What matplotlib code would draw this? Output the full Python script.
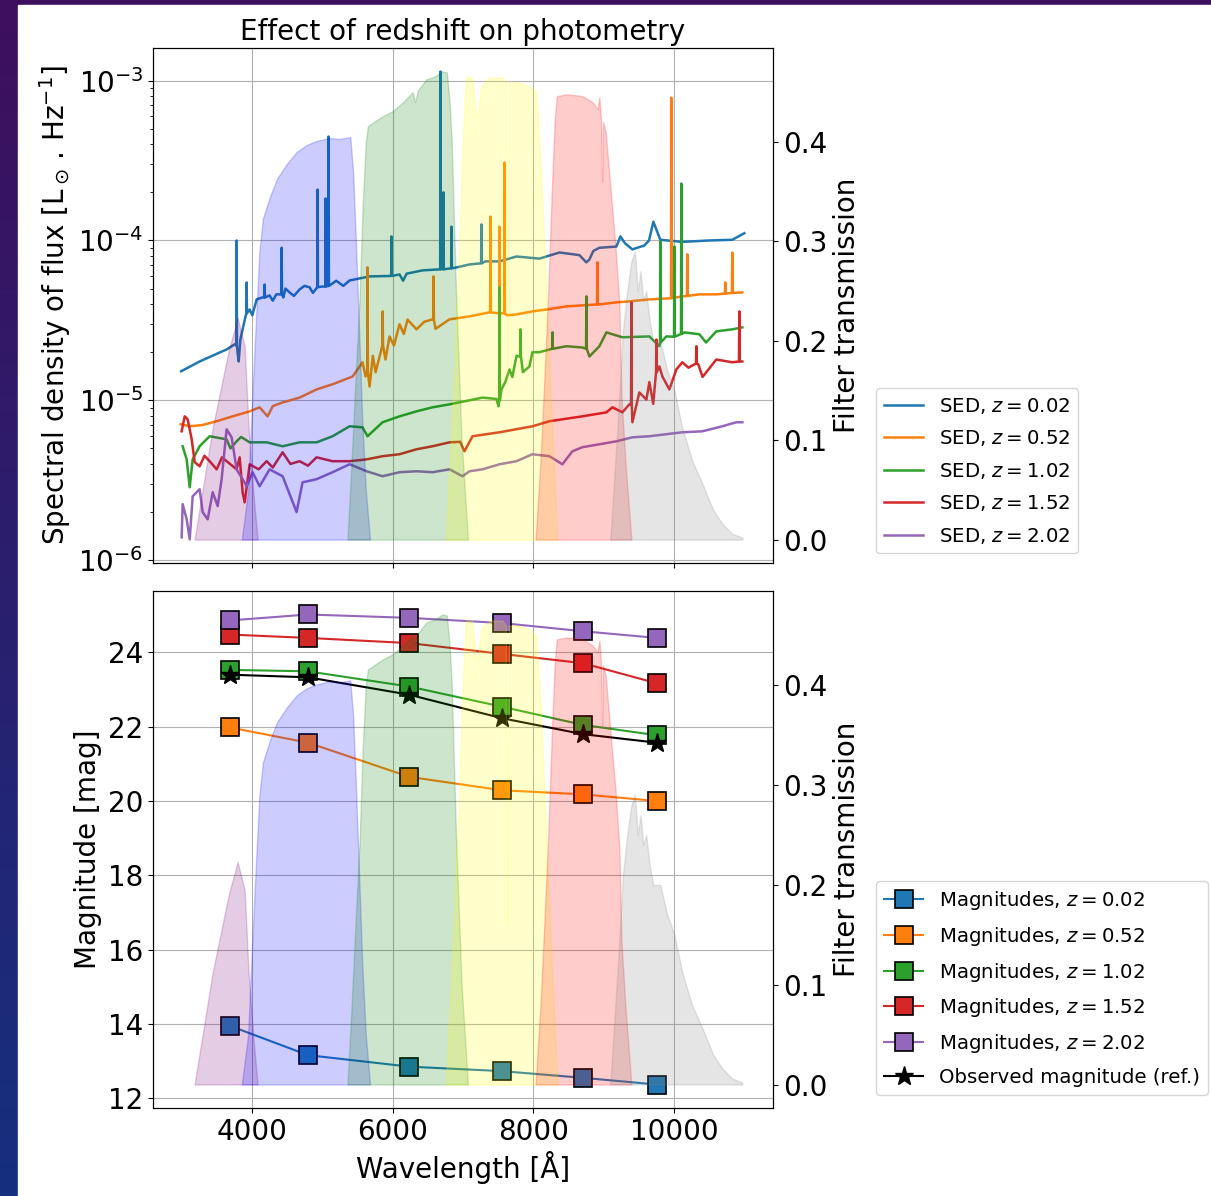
import numpy as np
import matplotlib
matplotlib.use("Agg")
import matplotlib.pyplot as plt
from matplotlib.patches import Rectangle
from matplotlib.colors import to_rgb

# SED continua, wavelength in Angstrom, flux in Lsun/Hz
cont_z002_wl = [3000, 3262, 3500, 3645, 3759, 3800, 3816, 3840, 3872, 3910, 3972, 4010, 4071, 4150,
                4255, 4300, 4350, 4450, 4480, 4539, 4600, 4681, 4750, 4823, 4870, 4993, 5149, 5200,
                5300, 5390, 5674, 6099, 6150, 6200, 6426, 6700, 6894, 7092, 7319, 7518, 7759, 8085,
                8369, 8652, 8750, 8794, 8850, 8936, 9177, 9234, 9300, 9404, 9574, 9640, 9702, 9801,
                10113, 10496, 10822, 10993]
cont_z002_fl = [1.52e-5, 1.75e-5, 1.95e-5, 2.08e-5, 2.24e-5, 2.0e-5, 1.75e-5, 2.4e-5, 2.78e-5, 3.3e-5,
                3.7e-5, 3.4e-5, 4.28e-5, 4.4e-5, 4.53e-5, 4.2e-5, 4.6e-5, 4.4e-5, 5.0e-5, 4.73e-5,
                4.5e-5, 4.94e-5, 5.2e-5, 5.09e-5, 4.7e-5, 5.15e-5, 5.39e-5, 5.6e-5, 5.2e-5, 5.62e-5,
                5.96e-5, 6.13e-5, 5.6e-5, 6.2e-5, 6.5e-5, 6.7e-5, 6.76e-5, 7.08e-5, 7.4e-5, 7.4e-5,
                7.94e-5, 7.7e-5, 8.41e-5, 8.1e-5, 7.3e-5, 7.6e-5, 8.6e-5, 9.0e-5, 9.16e-5, 1.06e-4,
                9.6e-5, 8.8e-5, 9.3e-5, 1.0e-4, 1.31e-4, 1.01e-4, 9.8e-5, 1.0e-4, 1.01e-4, 1.11e-4]
# emission lines: wavelength, continuum level, peak
lines_z002_wl = [3787, 3929, 4184, 4426, 4936, 5050, 5092, 5986, 6681, 6723, 6837, 7262]
lines_z002_base = [2.2e-5, 3.5e-5, 4.4e-5, 4.6e-5, 5.1e-5, 5.15e-5, 5.2e-5, 6.0e-5, 6.6e-5, 6.6e-5,
                   6.7e-5, 7.2e-5]
lines_z002_peak = [1.0e-4, 5.46e-5, 5.3e-5, 9.0e-5, 2.08e-4, 1.83e-4, 4.47e-4, 1.06e-4, 1.14e-3,
                   2.0e-4, 1.22e-4, 1.26e-4]

cont_z052_wl = [2993, 3121, 3300, 3504, 3730, 3972, 4113, 4227, 4300, 4440, 4681, 4922, 5149, 5433,
                5574, 5617, 5674, 5720, 5760, 5858, 5900, 5957, 6020, 6099, 6160, 6213, 6340, 6450,
                6567, 6610, 6809, 7092, 7376, 7546, 7631, 7759, 7986, 8184, 8468, 8936, 9177, 9362,
                9645, 10113, 10354, 10595, 10965]
cont_z052_fl = [7.08e-6, 6.88e-6, 7.0e-6, 7.4e-6, 7.94e-6, 8.53e-6, 9.04e-6, 7.94e-6, 9.2e-6, 9.7e-6,
                1.04e-5, 1.17e-5, 1.26e-5, 1.41e-5, 1.73e-5, 1.41e-5, 1.22e-5, 1.9e-5, 1.5e-5, 2.18e-5,
                1.8e-5, 2.51e-5, 2.2e-5, 2.99e-5, 2.6e-5, 3.2e-5, 2.78e-5, 3.1e-5, 3.21e-5, 2.8e-5,
                3.21e-5, 3.35e-5, 3.55e-5, 3.5e-5, 3.4e-5, 3.45e-5, 3.6e-5, 3.7e-5, 3.87e-5, 3.98e-5,
                4.1e-5, 4.16e-5, 4.28e-5, 4.47e-5, 4.6e-5, 4.6e-5, 4.73e-5]
lines_z052_wl = [5645, 5860, 6582, 7390, 7518, 7589, 8908, 9957, 10184, 10723, 10822]
lines_z052_base = [1.5e-5, 2.2e-5, 3.2e-5, 3.55e-5, 3.5e-5, 3.5e-5, 3.98e-5, 4.35e-5, 4.5e-5, 4.65e-5,
                   4.7e-5]
lines_z052_peak = [6.78e-5, 3.6e-5, 5.96e-5, 1.41e-4, 1.22e-4, 3.07e-4, 7.29e-5, 7.83e-4, 8.2e-5,
                   5.46e-5, 8.4e-5]

cont_z102_wl = [3021, 3078, 3121, 3163, 3262, 3404, 3645, 3700, 3787, 3850, 3972, 4213, 4440, 4681,
                4922, 5149, 5390, 5574, 5645, 5858, 6099, 6340, 6567, 6809, 7092, 7277, 7475, 7504,
                7546, 7600, 7660, 7700, 7760, 7801, 7850, 7943, 7986, 8085, 8227, 8468, 8695, 8794,
                8936, 9035, 9262, 9645, 9787, 9886, 10142, 10354, 10450, 10595, 10822, 10965]
cont_z102_fl = [5.16e-6, 4.27e-6, 2.86e-6, 4.27e-6, 5.16e-6, 5.96e-6, 5.7e-6, 5.0e-6, 5.54e-6, 5.9e-6,
                5.46e-6, 5.46e-6, 5.16e-6, 5.46e-6, 5.46e-6, 5.96e-6, 6.88e-6, 6.78e-6, 5.96e-6, 7.29e-6,
                7.94e-6, 8.53e-6, 9.04e-6, 9.44e-6, 1.0e-5, 1.04e-5, 1.02e-5, 9.17e-6, 1.17e-5, 1.3e-5,
                1.56e-5, 1.4e-5, 1.9e-5, 1.88e-5, 1.5e-5, 1.63e-5, 2.0e-5, 2.0e-5, 2.08e-5, 2.18e-5,
                2.14e-5, 1.88e-5, 2.18e-5, 2.66e-5, 2.48e-5, 2.51e-5, 2.18e-5, 2.51e-5, 2.66e-5, 2.59e-5,
                2.3e-5, 2.7e-5, 2.78e-5, 2.86e-5]
lines_z102_wl = [7518, 7816, 8270, 8752, 9801, 10000, 10099]
lines_z102_base = [1.0e-5, 1.9e-5, 2.1e-5, 2.1e-5, 2.3e-5, 2.5e-5, 2.6e-5]
lines_z102_peak = [5.09e-5, 2.78e-5, 2.66e-5, 4.47e-5, 9.86e-5, 9.17e-5, 2.27e-4]

cont_z152_wl = [3007, 3050, 3092, 3149, 3192, 3262, 3330, 3404, 3504, 3580, 3645, 3787, 3830, 3872,
                3901, 3972, 4100, 4213, 4300, 4440, 4550, 4681, 4800, 4922, 5149, 5390, 5631, 5858,
                6099, 6340, 6567, 6809, 6960, 7021, 7135, 7518, 7986, 8227, 8695, 9035, 9121, 9262,
                9362, 9404, 9503, 9603, 9645, 9700, 9787, 9830, 9929, 10028, 10113, 10200, 10340,
                10400, 10595, 10822, 10965]
cont_z152_fl = [6.4e-6, 7.94e-6, 7.6e-6, 5.7e-6, 4.1e-6, 3.87e-6, 4.5e-6, 4.16e-6, 3.7e-6, 4.4e-6,
                4.16e-6, 3.7e-6, 4.4e-6, 2.66e-6, 2.3e-6, 3.98e-6, 3.7e-6, 4.16e-6, 3.8e-6, 4.73e-6,
                4.0e-6, 4.16e-6, 3.9e-6, 4.4e-6, 4.16e-6, 4.16e-6, 4.27e-6, 4.47e-6, 4.6e-6, 4.94e-6,
                5.16e-6, 5.46e-6, 5.5e-6, 4.8e-6, 5.96e-6, 6.31e-6, 6.88e-6, 7.4e-6, 7.94e-6, 8.41e-6,
                9.04e-6, 8.41e-6, 9.44e-6, 7.29e-6, 1.12e-5, 1.01e-5, 1.3e-5, 9.5e-6, 1.63e-5, 1.41e-5,
                1.17e-5, 1.56e-5, 1.73e-5, 1.6e-5, 1.68e-5, 1.4e-5, 1.8e-5, 1.73e-5, 1.75e-5]
lines_z152_wl = [9390, 9745, 10312, 10922]
lines_z152_base = [9.44e-6, 1.5e-5, 1.7e-5, 1.75e-5]
lines_z152_peak = [4.1e-5, 2.4e-5, 2.18e-5, 3.6e-5]

cont_z202_wl = [3007, 3021, 3078, 3121, 3163, 3262, 3305, 3376, 3447, 3518, 3574, 3645, 3716, 3787,
                3872, 3929, 4014, 4113, 4255, 4440, 4638, 4723, 4922, 5149, 5390, 5631, 5858, 6099,
                6340, 6567, 6809, 6993, 7092, 7277, 7518, 7759, 7986, 8227, 8411, 8553, 8695, 9177,
                9404, 9645, 10113, 10397, 10681, 10879, 10965]
cont_z202_fl = [1.39e-6, 2.24e-6, 1.8e-6, 1.35e-6, 2.51e-6, 2.78e-6, 2.0e-6, 1.8e-6, 2.66e-6, 2.18e-6,
                3.21e-6, 6.59e-6, 5.87e-6, 3.7e-6, 3.21e-6, 2.9e-6, 3.55e-6, 2.9e-6, 3.7e-6, 3.35e-6,
                2.0e-6, 3.07e-6, 3.21e-6, 3.55e-6, 3.98e-6, 3.6e-6, 3.35e-6, 3.55e-6, 3.6e-6, 3.55e-6,
                3.7e-6, 3.35e-6, 3.6e-6, 3.7e-6, 3.98e-6, 4.16e-6, 4.6e-6, 4.47e-6, 3.98e-6, 4.8e-6,
                5.09e-6, 5.54e-6, 5.87e-6, 5.96e-6, 6.31e-6, 6.4e-6, 6.88e-6, 7.29e-6, 7.29e-6]
lines_z202_wl = []
lines_z202_base = []
lines_z202_peak = []

redshifts = ["0.02", "0.52", "1.02", "1.52", "2.02"]
seds = [
    (cont_z002_wl, cont_z002_fl, lines_z002_wl, lines_z002_base, lines_z002_peak),
    (cont_z052_wl, cont_z052_fl, lines_z052_wl, lines_z052_base, lines_z052_peak),
    (cont_z102_wl, cont_z102_fl, lines_z102_wl, lines_z102_base, lines_z102_peak),
    (cont_z152_wl, cont_z152_fl, lines_z152_wl, lines_z152_base, lines_z152_peak),
    (cont_z202_wl, cont_z202_fl, lines_z202_wl, lines_z202_base, lines_z202_peak),
]

# filter transmission curves
filt_u_wl = [3190, 3446, 3674, 3801, 3900, 3957, 4028, 4085]
filt_u_tr = [0.0, 0.112, 0.19, 0.223, 0.195, 0.112, 0.044, 0.0]
filt_g_wl = [3860, 3950, 4000, 4060, 4110, 4160, 4260, 4360, 4500, 4640, 4780, 4920, 5100, 5250,
             5400, 5440, 5480, 5520, 5570, 5620, 5680]
filt_g_tr = [0.0, 0.05, 0.13, 0.22, 0.29, 0.323, 0.345, 0.363, 0.378, 0.39, 0.397, 0.401, 0.404,
             0.403, 0.405, 0.37, 0.3, 0.22, 0.12, 0.05, 0.0]
filt_r_wl = [5360, 5420, 5480, 5530, 5575, 5620, 5650, 5860, 6000, 6150, 6284, 6320, 6360, 6480,
             6600, 6709, 6770, 6810, 6840, 6900, 6980, 7070]
filt_r_tr = [0.0, 0.08, 0.17, 0.24, 0.335, 0.4, 0.416, 0.426, 0.431, 0.44, 0.45, 0.44, 0.452, 0.463,
             0.466, 0.471, 0.47, 0.44, 0.40, 0.25, 0.1, 0.0]
filt_i_wl = [6760, 6830, 6890, 6950, 6995, 7040, 7130, 7180, 7200, 7260, 7380, 7560, 7610, 7630,
             7650, 7690, 7800, 7943, 8040, 8085, 8140, 8185, 8260, 8340]
filt_i_tr = [0.0, 0.1, 0.2, 0.3, 0.40, 0.465, 0.465, 0.43, 0.425, 0.456, 0.465, 0.465, 0.46, 0.16,
             0.46, 0.46, 0.46, 0.456, 0.45, 0.40, 0.32, 0.246, 0.12, 0.0]
filt_z_wl = [8030, 8100, 8160, 8210, 8260, 8300, 8330, 8470, 8600, 8700, 8840, 8910, 8936, 8960,
             8975, 8990, 9025, 9080, 9163, 9220, 9248, 9305, 9390]
filt_z_tr = [0.0, 0.08, 0.17, 0.25, 0.35, 0.42, 0.446, 0.448, 0.447, 0.446, 0.44, 0.433, 0.445,
             0.42, 0.36, 0.42, 0.41, 0.364, 0.296, 0.236, 0.145, 0.078, 0.0]
filt_y_wl = [9090, 9190, 9270, 9330, 9390, 9440, 9480, 9520, 9560, 9600, 9650, 9700, 9800, 9900,
             10000, 10110, 10250, 10400, 10550, 10680, 10820, 10965]
filt_y_tr = [0.0, 0.11, 0.21, 0.25, 0.28, 0.29, 0.25, 0.27, 0.24, 0.25, 0.22, 0.2, 0.2, 0.17,
             0.15, 0.113, 0.08, 0.056, 0.03, 0.016, 0.006, 0.002]

filters = [(filt_u_wl, filt_u_tr, "purple"), (filt_g_wl, filt_g_tr, "blue"),
           (filt_r_wl, filt_r_tr, "green"), (filt_i_wl, filt_i_tr, "yellow"),
           (filt_z_wl, filt_z_tr, "red"), (filt_y_wl, filt_y_tr, "grey")]

# photometry in each band
band_wl = [3690, 4800, 6240, 7550, 8700, 9750]
mag_z002 = [13.95, 13.16, 12.85, 12.73, 12.55, 12.37]
mag_z052 = [21.98, 21.57, 20.65, 20.29, 20.18, 20.00]
mag_z102 = [23.53, 23.49, 23.08, 22.54, 22.05, 21.77]
mag_z152 = [24.48, 24.39, 24.25, 23.96, 23.71, 23.17]
mag_z202 = [24.86, 25.02, 24.93, 24.79, 24.57, 24.39]
mag_obs = [23.40, 23.33, 22.86, 22.23, 21.80, 21.57]
mags = [mag_z002, mag_z052, mag_z102, mag_z152, mag_z202]

colors = ["C0", "C1", "C2", "C3", "C4"]


def spectrum(cwl, cfl, lwl, lbase, lpeak, half_width=5):
    # put each emission line on top of the continuum as a narrow spike
    wl = list(cwl)
    fl = list(cfl)
    for w, b, p in zip(lwl, lbase, lpeak):
        wl += [w - half_width, w, w + half_width]
        fl += [b, p, b]
    order = np.argsort(wl, kind="stable")
    return np.array(wl)[order], np.array(fl)[order]


plt.rcParams["font.size"] = 20

W, H = 1211, 1196
fig = plt.figure(figsize=(W / 100, H / 100), dpi=100)

# slide background behind the figure
bg = fig.add_axes([0, 0, 1, 1], zorder=-10)
top_c = np.array(to_rgb("#3e0f5e"))
bot_c = np.array(to_rgb("#15307f"))
t = np.linspace(0, 1, 256)[:, None, None]
grad = top_c * (1 - t) + bot_c * t
bg.imshow(grad, extent=[0, 1, 0, 1], aspect="auto", origin="upper")
bg.add_patch(Rectangle((18 / W, 0), 1, 1 - 5 / H, color="white"))
bg.set_xlim(0, 1)
bg.set_ylim(0, 1)
bg.axis("off")

ax1 = fig.add_axes([153 / W, 1 - 563 / H, 620 / W, 515 / H])
ax2 = fig.add_axes([153 / W, 1 - 1108 / H, 620 / W, 517 / H], sharex=ax1)

for sed, c, z in zip(seds, colors, redshifts):
    wl, fl = spectrum(*sed)
    ax1.plot(wl, fl, color=c, lw=1.8, label=r"SED, $z = %s$" % z)
ax1.set_yscale("log")
ax1.set_ylim(9.6e-7, 1.6e-3)
ax1.grid(True)
ax1.set_ylabel(r"Spectral density of flux [$\mathrm{L}_\odot\,.\,\mathrm{Hz}^{-1}$]")
ax1.set_title("Effect of redshift on photometry", fontsize=20)
ax1.tick_params(labelbottom=False)

ax1t = ax1.twinx()
for wl, tr, c in filters:
    ax1t.fill_between(wl, 0, tr, color=c, alpha=0.2)
ax1t.set_ylabel("Filter transmission")

for m, c, z in zip(mags, colors, redshifts):
    ax2.plot(band_wl, m, "s-", color=c, markersize=13, markeredgecolor="k",
             markeredgewidth=1.2, label=r"Magnitudes, $z = %s$" % z)
ax2.plot(band_wl, mag_obs, "k*-", markersize=14, label="Observed magnitude (ref.)")
ax2.grid(True)
ax2.set_ylabel("Magnitude [mag]")
ax2.set_xlabel("Wavelength [Å]")
ax2.set_xticks([4000, 6000, 8000, 10000])

ax2t = ax2.twinx()
for wl, tr, c in filters:
    ax2t.fill_between(wl, 0, tr, color=c, alpha=0.2)
ax2t.set_ylabel("Filter transmission")

ax1.set_xlim(2600, 11400)

fig.legend(*ax1.get_legend_handles_labels(), loc="upper left", borderaxespad=0,
           bbox_to_anchor=(876 / W, 1 - 388 / H), fontsize=14.2, labelspacing=0.63)
fig.legend(*ax2.get_legend_handles_labels(), loc="upper left", borderaxespad=0,
           bbox_to_anchor=(876 / W, 1 - 881 / H), fontsize=14.2, labelspacing=0.65)

fig.savefig("out.png", dpi=100)
